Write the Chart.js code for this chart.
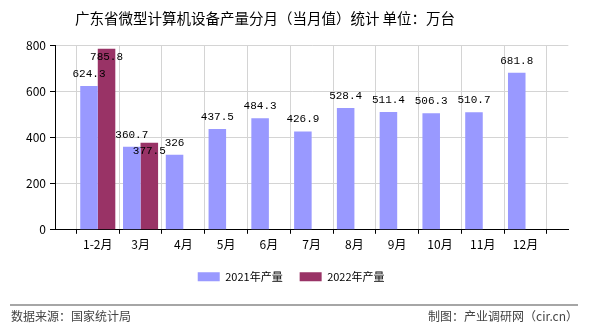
<!DOCTYPE html>
<html>
<head>
<meta charset="utf-8">
<script src="https://cdn.jsdelivr.net/npm/chart.js@4"></script>
<style>
  html, body { margin: 0; padding: 0; background: #fff; }
  #wrap { width: 590px; height: 330px; position: relative; }
</style>
</head>
<body>
<div id="wrap"><canvas id="chart"></canvas></div>
<script>
const titleText = '广东省微型计算机设备产量分月（当月值）统计 单位：万台';
const months = ['1-2月', '3月', '4月', '5月', '6月', '7月', '8月', '9月', '10月', '11月', '12月'];
const output2021 = [624.3, 360.7, 326, 437.5, 484.3, 426.9, 528.4, 511.4, 506.3, 510.7, 681.8];
const output2022 = [785.8, 377.5];
const yTicks = [0, 200, 400, 600, 800];
const sourceText = '数据来源：国家统计局';
const creditText = '制图：产业调研网（cir.cn）';

const cjk = '"Noto Sans CJK SC", "Noto Sans", sans-serif';

// axis runs from one empty slot before the first month to one after the last
const pad = (arr) => [null, ...months.map((m, i) => (arr[i] === undefined ? null : arr[i])), null];
const labels = ['', ...months, ''];

const valueLabels = {
  id: 'valueLabels',
  afterDatasetsDraw(chart) {
    const { ctx } = chart;
    ctx.save();
    ctx.font = '11px "Liberation Mono", monospace';
    ctx.fillStyle = '#000';
    ctx.textAlign = 'center';
    ctx.textBaseline = 'middle';
    chart.data.datasets.forEach((ds, di) => {
      const meta = chart.getDatasetMeta(di);
      meta.data.forEach((bar, i) => {
        const v = ds.data[i];
        if (v === null || v === undefined) return;
        const dy = di === 0 ? -12 : 8;
        ctx.fillText(String(v), bar.x, bar.y + dy);
      });
    });
    ctx.restore();
  },
};

// title and footer sit outside the plot, drawn straight on the canvas
const frame = {
  id: 'frame',
  afterDraw(chart) {
    const { ctx } = chart;
    ctx.save();
    ctx.font = '14.5px ' + cjk;
    ctx.fillStyle = '#000';
    ctx.textAlign = 'center';
    ctx.textBaseline = 'middle';
    ctx.fillText(titleText, 265, 18);

    ctx.strokeStyle = '#888';
    ctx.lineWidth = 1.5;
    ctx.beginPath();
    ctx.moveTo(10, 305);
    ctx.lineTo(578, 305);
    ctx.stroke();
    ctx.font = '12px ' + cjk;
    ctx.fillStyle = '#444';
    ctx.textAlign = 'left';
    ctx.fillText(sourceText, 11, 316);
    ctx.textAlign = 'right';
    ctx.fillText(creditText, 578, 316);
    ctx.restore();
  },
};

new Chart(document.getElementById('chart'), {
  type: 'bar',
  data: {
    labels,
    datasets: [
      {
        label: '2021年产量',
        data: pad(output2021),
        backgroundColor: '#9999ff',
        categoryPercentage: 0.82,
        barPercentage: 1,
      },
      {
        label: '2022年产量',
        data: pad(output2022),
        backgroundColor: '#993366',
        categoryPercentage: 0.82,
        barPercentage: 1,
      },
    ],
  },
  options: {
    responsive: true,
    maintainAspectRatio: false,
    animation: false,
    layout: {
      padding: { left: 14, right: 21.7, top: 45.5, bottom: 37.7 },
    },
    scales: {
      x: {
        offset: false,
        grid: { color: '#d4d4d4', tickColor: '#000', tickLength: 4 },
        border: { color: '#000' },
        ticks: {
          color: '#000',
          font: { family: cjk, size: 12 },
          padding: 3,
          autoSkip: false,
          maxRotation: 0,
        },
        afterFit(scale) {
          scale.height = 24.5;
        },
      },
      y: {
        min: 0,
        max: 800,
        grid: { color: '#d4d4d4', tickColor: '#000', tickLength: 5 },
        border: { color: '#000' },
        afterBuildTicks(scale) {
          scale.ticks = yTicks.map((v) => ({ value: v }));
        },
        ticks: {
          color: '#000',
          font: { family: cjk, size: 12 },
          padding: 4,
        },
        afterFit(scale) {
          scale.width = 41;
        },
      },
    },
    plugins: {
      title: { display: false },
      legend: {
        position: 'bottom',
        labels: {
          boxWidth: 22,
          boxHeight: 9,
          padding: 17,
          color: '#000',
          font: { family: cjk, size: 11 },
        },
      },
      tooltip: { enabled: false },
    },
    events: [],
  },
  plugins: [valueLabels, frame],
});
</script>
</body>
</html>
